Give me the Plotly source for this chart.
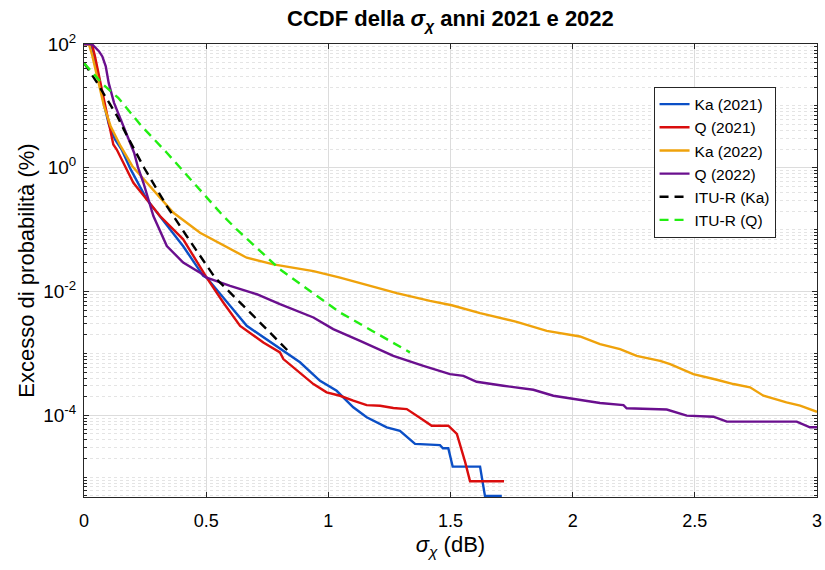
import plotly.graph_objects as go

# ---------------- data ----------------
ka21_x = [0, 0.029, 0.041, 0.053, 0.065, 0.082, 0.102, 0.127, 0.154, 0.191, 0.257, 0.332, 0.406,
          0.488, 0.502, 0.666, 0.857, 0.884, 0.966, 1.034, 1.102, 1.157, 1.239, 1.293, 1.355,
          1.457, 1.469, 1.491, 1.509, 1.621, 1.641, 1.710]
ka21_y = [100, 99, 67, 38, 22, 10.5, 5.0, 2.86, 1.97, 0.94, 0.308, 0.131, 0.054,
          0.0179, 0.0168, 0.00279, 8.6e-4, 7.2e-4, 3.6e-4, 2.49e-4, 1.35e-4, 9.3e-5, 6.4e-5, 5.6e-5, 3.45e-5,
          3.3e-5, 2.94e-5, 2.94e-5, 1.48e-5, 1.48e-5, 5.0e-6, 5.0e-6]

q21_x = [0, 0.033, 0.045, 0.061, 0.079, 0.094, 0.106, 0.120, 0.134, 0.161, 0.202, 0.257, 0.311,
         0.406, 0.502, 0.570, 0.639, 0.734, 0.802, 0.816, 0.884, 0.939, 0.993, 1.048, 1.102,
         1.157, 1.212, 1.266, 1.321, 1.362, 1.382, 1.423, 1.491, 1.526, 1.539, 1.560, 1.580, 1.719]
q21_y = [100, 99, 63, 32, 14.3, 7.2, 4.15, 2.38, 1.97, 1.20, 0.573, 0.308, 0.166,
         0.0698, 0.0168, 0.00665, 0.00279, 0.00150, 0.00104, 8.1e-4, 4.94e-4, 3.2e-4, 2.35e-4, 2.07e-4, 1.72e-4,
         1.46e-4, 1.43e-4, 1.31e-4, 1.26e-4, 9.6e-5, 8.7e-5, 6.8e-5, 6.8e-5, 5.0e-5, 3.44e-5, 1.75e-5, 8.6e-6, 8.6e-6]

ka22_x = [0, 0.020, 0.033, 0.048, 0.061, 0.082, 0.109, 0.150, 0.198, 0.270, 0.366, 0.475, 0.598,
          0.666, 0.775, 0.939, 1.048, 1.143, 1.280, 1.416, 1.505, 1.621, 1.771, 1.894, 2.030,
          2.112, 2.194, 2.262, 2.358, 2.399, 2.494, 2.590, 2.658, 2.726, 2.781, 2.875, 2.931, 3.0]
ka22_y = [100, 99, 67, 38, 20.7, 9.9, 4.69, 2.23, 1.06, 0.505, 0.187, 0.089, 0.048,
          0.0352, 0.0275, 0.0214, 0.0168, 0.0131, 0.0094, 0.00705, 0.0060, 0.00447, 0.00323, 0.00232, 0.00188,
          0.00141, 0.00117, 9.1e-4, 7.6e-4, 6.7e-4, 4.63e-4, 3.75e-4, 3.2e-4, 2.83e-4, 2.07e-4, 1.62e-4, 1.43e-4, 1.14e-4]

q22_x = [0, 0.033, 0.061, 0.075, 0.089, 0.101, 0.123, 0.150, 0.177, 0.205, 0.221, 0.243, 0.284,
         0.339, 0.406, 0.475, 0.502, 0.598, 0.707, 0.802, 0.939, 1.020, 1.130, 1.266, 1.389,
         1.498, 1.553, 1.607, 1.716, 1.839, 1.921, 2.003, 2.112, 2.208, 2.221, 2.385, 2.467,
         2.576, 2.631, 2.917, 2.971, 3.0]
q22_y = [100, 99, 76.6, 63, 43.5, 23.5, 11.2, 6.0, 3.24, 1.75, 1.01, 0.573, 0.166,
         0.0543, 0.0294, 0.0202, 0.0168, 0.0123, 0.00904, 0.00624, 0.00381, 0.00247, 0.00160, 9.1e-4, 6.3e-4,
         4.63e-4, 4.35e-4, 3.48e-4, 3.0e-4, 2.59e-4, 2.07e-4, 1.83e-4, 1.58e-4, 1.46e-4, 1.30e-4, 1.24e-4, 9.9e-5,
         9.5e-5, 7.9e-5, 7.9e-5, 6.4e-5, 6.4e-5]

ituka_x = [0, 0.054, 0.136, 0.177, 0.246, 0.339, 0.420, 0.536, 0.666, 0.836]
ituka_y = [49.5, 23.5, 6.8, 3.24, 1.0, 0.24, 0.0789, 0.0168, 0.0052, 0.00109]

ituq_x = [0, 0.079, 0.140, 0.236, 0.339, 0.447, 0.570, 0.625, 0.802, 1.048, 1.334]
ituq_y = [49, 22, 13.5, 4.69, 1.75, 0.573, 0.166, 0.101, 0.0229, 0.00458, 0.00104]

x_ticks = [0, 0.5, 1, 1.5, 2, 2.5, 3]
x_ticklabels = ["0", "0.5", "1", "1.5", "2", "2.5", "3"]
y_ticks = [1e-4, 1e-2, 1, 100]
y_ticklabels = ["10<sup>-4</sup>", "10<sup>-2</sup>", "10<sup>0</sup>", "10<sup>2</sup>"]

series = [
    ("Ka (2021)", ka21_x, ka21_y, "#0b4fc6", "solid"),
    ("Q (2021)", q21_x, q21_y, "#da0d0d", "solid"),
    ("Ka (2022)", ka22_x, ka22_y, "#efa20b", "solid"),
    ("Q (2022)", q22_x, q22_y, "#6a0f8e", "solid"),
    ("ITU-R (Ka)", ituka_x, ituka_y, "#000000", "dash"),
    ("ITU-R (Q)", ituq_x, ituq_y, "#22ee11", "dash"),
]

fig = go.Figure()
for name, xs, ys, col, dash in series:
    fig.add_trace(go.Scatter(x=xs, y=ys, mode="lines", name=name,
                             line=dict(color=col, width=2.4, dash=dash if dash == "solid" else "9px,6px")))

minor_vals = []
for k in range(-6, 2):
    for m in range(1, 10):
        if m == 1 and k in (-4, -2, 0):
            continue
        minor_vals.append(m * 10 ** k)

font_family = "Liberation Sans, Arial, sans-serif"
fig.update_layout(
    width=825, height=570,
    margin=dict(l=84, r=8, t=44, b=73, autoexpand=False),
    paper_bgcolor="white", plot_bgcolor="white",
    font=dict(family=font_family, color="#262626", size=18),
    title=dict(text="<b>CCDF della <i>σ</i><sub><i>χ</i></sub> anni 2021 e 2022</b>",
               x=0.546, xanchor="center", y=0.968, yanchor="middle",
               font=dict(size=22, color="black")),
    showlegend=True,
    legend=dict(x=0.777, y=0.906, xanchor="left", yanchor="top",
                bgcolor="white", bordercolor="#262626", borderwidth=1,
                font=dict(size=15.5, color="black"), tracegroupgap=0),
)
fig.update_xaxes(
    range=[0, 3], tickvals=x_ticks, ticktext=x_ticklabels, automargin=True,
    showgrid=True, gridcolor="#dcdcdc", gridwidth=1,
    ticks="inside", ticklen=5, tickcolor="#262626",
    showline=True, linecolor="#262626", linewidth=1, mirror="ticks",
    zeroline=False, tickfont=dict(size=18, color="black"), ticklabelstandoff=7,
    title=dict(text="<i>σ</i><sub><i>χ</i></sub> (dB)", font=dict(size=22, color="black"), standoff=7),
)
fig.update_yaxes(
    type="log", range=[-5.32, 2], tickvals=y_ticks, ticktext=y_ticklabels, automargin=True,
    showgrid=True, gridcolor="#dcdcdc", gridwidth=1,
    ticks="inside", ticklen=5, tickcolor="#262626",
    showline=True, linecolor="#262626", linewidth=1, mirror="ticks",
    zeroline=False, tickfont=dict(size=19, color="black"), ticklabelstandoff=3,
    minor=dict(tickvals=minor_vals, ticks="inside", ticklen=3, tickcolor="#262626",
               showgrid=True, gridcolor="#e4e4e4", griddash="dot", gridwidth=1),
    title=dict(text="Excesso di probabilità (%)", font=dict(size=22, color="black"), standoff=2),
)

fig.write_html("out.html", config={"displayModeBar": False},
               post_script="document.body.style.margin='0';document.body.style.padding='0';")
